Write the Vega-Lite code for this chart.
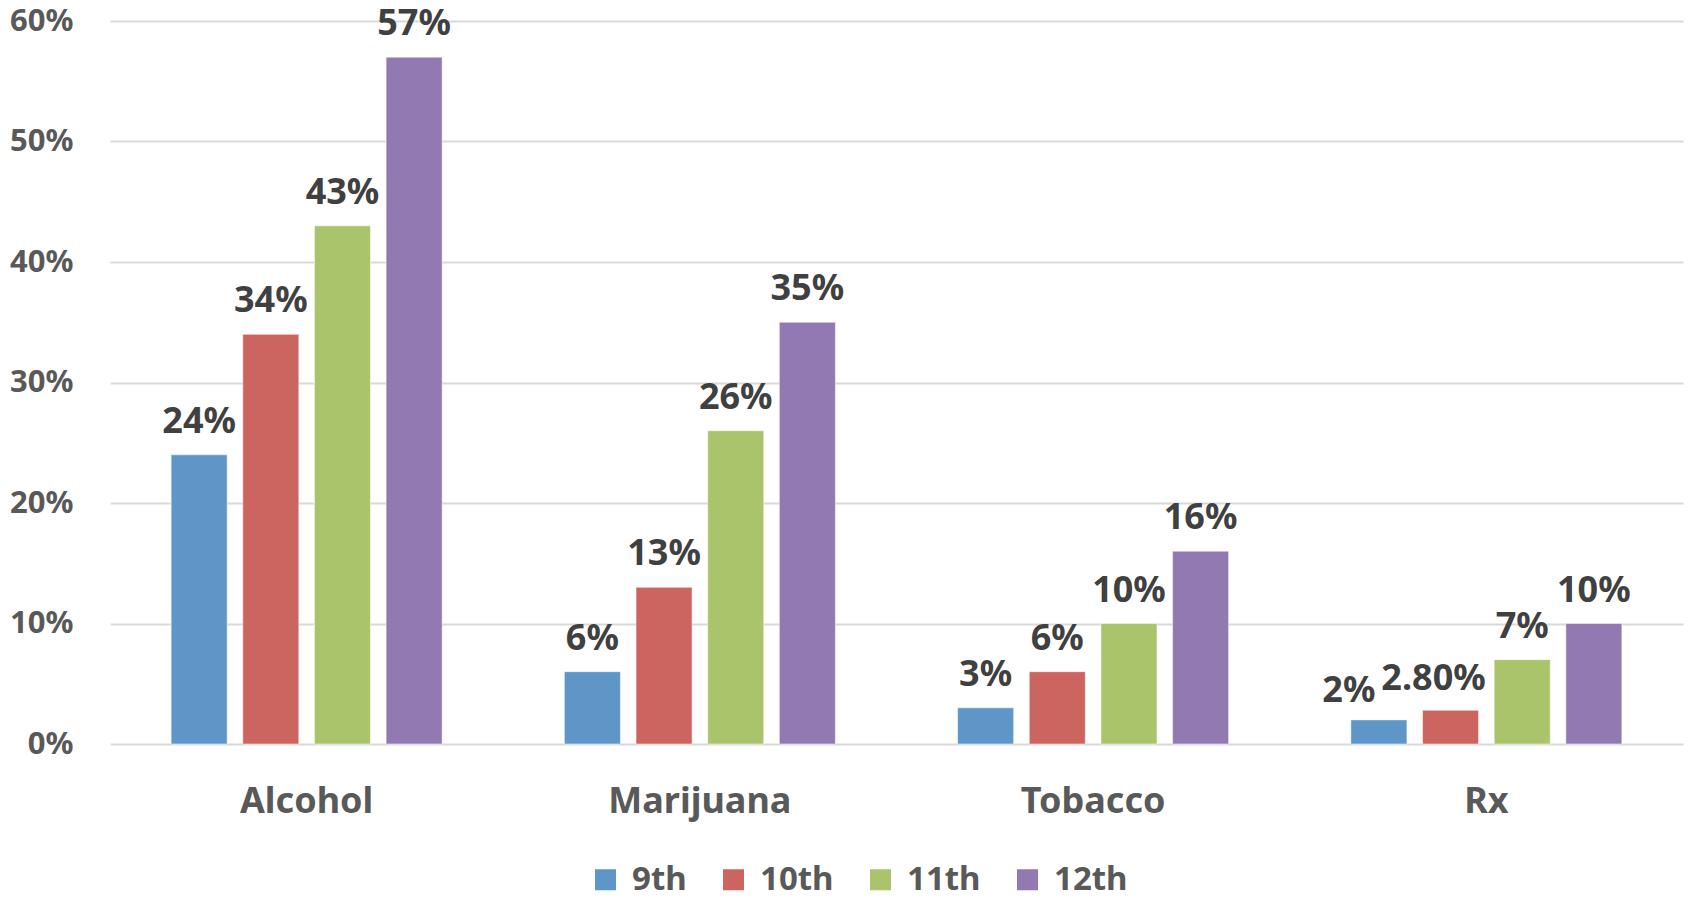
{
  "$schema": "https://vega.github.io/schema/vega-lite/v6.json",
  "width": 1573,
  "height": 723,
  "autosize": {"type": "none"},
  "padding": {"left": 110, "top": 21, "right": 11, "bottom": 155},
  "background": "white",
  "data": {
    "values": [
      {"substance": "Alcohol", "grade": "9th", "value": 0.24, "label": "24%"},
      {"substance": "Alcohol", "grade": "10th", "value": 0.34, "label": "34%"},
      {"substance": "Alcohol", "grade": "11th", "value": 0.43, "label": "43%"},
      {"substance": "Alcohol", "grade": "12th", "value": 0.57, "label": "57%"},
      {"substance": "Marijuana", "grade": "9th", "value": 0.06, "label": "6%"},
      {"substance": "Marijuana", "grade": "10th", "value": 0.13, "label": "13%"},
      {"substance": "Marijuana", "grade": "11th", "value": 0.26, "label": "26%"},
      {"substance": "Marijuana", "grade": "12th", "value": 0.35, "label": "35%"},
      {"substance": "Tobacco", "grade": "9th", "value": 0.03, "label": "3%"},
      {"substance": "Tobacco", "grade": "10th", "value": 0.06, "label": "6%"},
      {"substance": "Tobacco", "grade": "11th", "value": 0.10, "label": "10%"},
      {"substance": "Tobacco", "grade": "12th", "value": 0.16, "label": "16%"},
      {"substance": "Rx", "grade": "9th", "value": 0.02, "label": "2%"},
      {"substance": "Rx", "grade": "10th", "value": 0.028, "label": "2.80%"},
      {"substance": "Rx", "grade": "11th", "value": 0.07, "label": "7%"},
      {"substance": "Rx", "grade": "12th", "value": 0.10, "label": "10%"}
    ]
  },
  "encoding": {
    "x": {
      "field": "substance", "type": "nominal",
      "sort": ["Alcohol", "Marijuana", "Tobacco", "Rx"],
      "scale": {"paddingInner": 0, "paddingOuter": 0},
      "axis": {
        "title": null, "labelAngle": 0, "ticks": false, "tickSize": 0, "domain": false,
        "labelFont": "Noto Sans", "labelFontWeight": "bold", "labelFontSize": 36,
        "labelColor": "#595959", "labelPadding": 40, "labelBaseline": "top", "labelLimit": 0
      }
    },
    "xOffset": {
      "field": "grade", "type": "nominal",
      "sort": ["9th", "10th", "11th", "12th"],
      "scale": {"paddingInner": 0.218, "paddingOuter": 0.853}
    },
    "y": {
      "field": "value", "type": "quantitative",
      "scale": {"domain": [0, 0.6], "nice": false},
      "axis": {
        "title": null, "format": ".0%", "values": [0, 0.1, 0.2, 0.3, 0.4, 0.5, 0.6],
        "ticks": false, "tickSize": 0, "domain": false,
        "grid": true, "gridColor": "#d9d9d9", "gridWidth": 2,
        "labelFont": "Noto Sans", "labelFontWeight": "bold", "labelFontSize": 31,
        "labelColor": "#595959", "labelPadding": 37
      }
    }
  },
  "layer": [
    {
      "mark": {"type": "bar", "stroke": "white", "strokeOpacity": 0.5, "strokeWidth": 1},
      "encoding": {
        "color": {
          "field": "grade", "type": "nominal",
          "sort": ["9th", "10th", "11th", "12th"],
          "scale": {
            "domain": ["9th", "10th", "11th", "12th"],
            "range": ["#5F96C8", "#CC6560", "#AAC46B", "#9279B1"]
          },
          "legend": {
            "title": null, "orient": "none", "direction": "horizontal",
            "legendX": 479, "legendY": 842, "padding": 0,
            "symbolType": "square", "symbolSize": 441, "symbolStrokeWidth": 0,
            "labelFont": "Noto Sans", "labelFontWeight": "bold", "labelFontSize": 33,
            "labelColor": "#595959", "labelOffset": 10, "columnPadding": 30
          }
        }
      }
    },
    {
      "transform": [{"filter": "!(datum.substance == 'Rx' && (datum.grade == '9th' || datum.grade == '10th'))"}],
      "mark": {
        "type": "text", "baseline": "alphabetic", "dy": -22,
        "font": "Noto Sans", "fontWeight": "bold", "fontSize": 36, "color": "#404040"
      },
      "encoding": {"text": {"field": "label"}}
    },
    {
      "transform": [{"filter": "datum.substance == 'Rx' && datum.grade == '9th'"}],
      "mark": {
        "type": "text", "baseline": "alphabetic", "dy": -18, "dx": -30,
        "font": "Noto Sans", "fontWeight": "bold", "fontSize": 36, "color": "#404040"
      },
      "encoding": {"text": {"field": "label"}}
    },
    {
      "transform": [{"filter": "datum.substance == 'Rx' && datum.grade == '10th'"}],
      "mark": {
        "type": "text", "baseline": "alphabetic", "dy": -20, "dx": -17,
        "font": "Noto Sans", "fontWeight": "bold", "fontSize": 36, "color": "#404040"
      },
      "encoding": {"text": {"field": "label"}}
    }
  ],
  "config": {"view": {"stroke": null}}
}
